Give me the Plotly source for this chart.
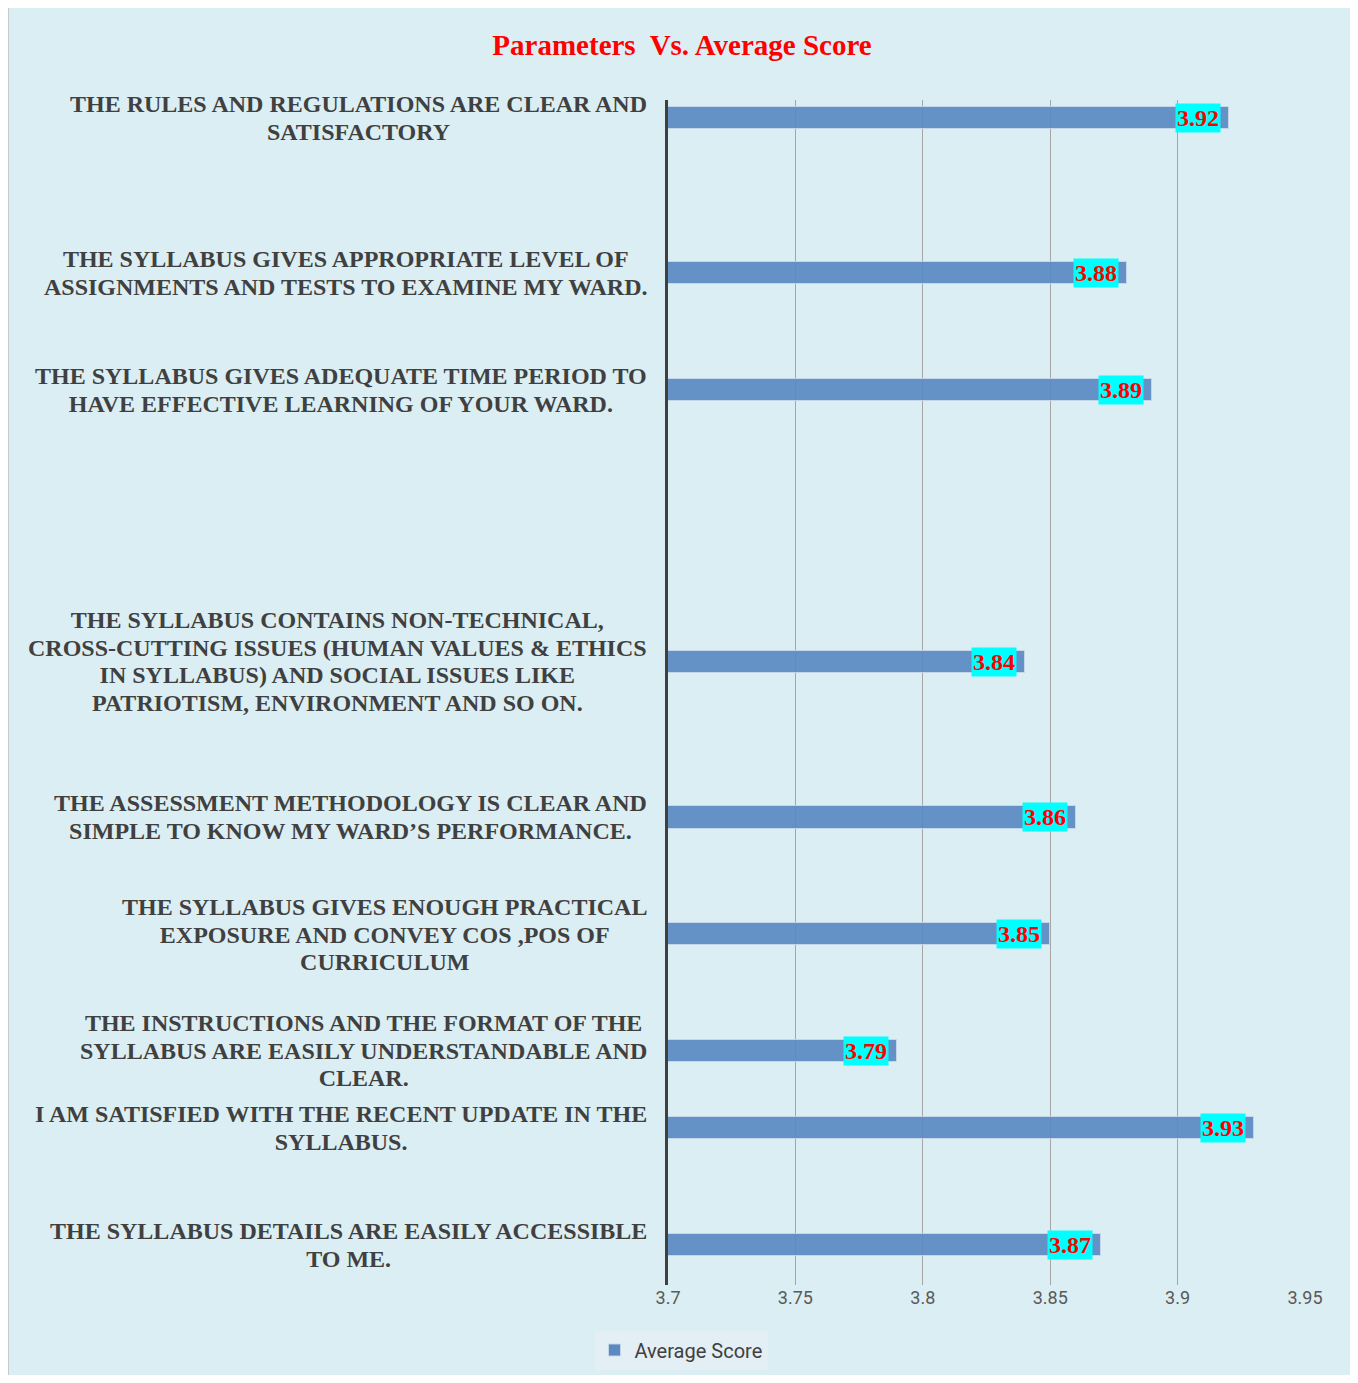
import plotly.graph_objects as go

# ---- data ----
categories = [
    "THE RULES AND REGULATIONS ARE CLEAR AND<br>SATISFACTORY",
    "THE SYLLABUS GIVES APPROPRIATE LEVEL OF<br>ASSIGNMENTS AND TESTS TO EXAMINE MY WARD.",
    "THE SYLLABUS GIVES ADEQUATE TIME PERIOD TO<br>HAVE EFFECTIVE LEARNING OF YOUR WARD.",
    "THE SYLLABUS CONTAINS NON-TECHNICAL,<br>CROSS-CUTTING ISSUES (HUMAN VALUES &amp; ETHICS<br>IN SYLLABUS) AND SOCIAL ISSUES LIKE<br>PATRIOTISM, ENVIRONMENT AND SO ON.",
    "THE ASSESSMENT METHODOLOGY IS CLEAR AND<br>SIMPLE TO KNOW MY WARD’S PERFORMANCE.",
    "THE SYLLABUS GIVES ENOUGH PRACTICAL<br>EXPOSURE AND CONVEY COS ,POS OF<br>CURRICULUM",
    "THE INSTRUCTIONS AND THE FORMAT OF THE<br>SYLLABUS ARE EASILY UNDERSTANDABLE AND<br>CLEAR.",
    "I AM SATISFIED WITH THE RECENT UPDATE IN THE<br>SYLLABUS.",
    "THE SYLLABUS DETAILS ARE EASILY ACCESSIBLE<br>TO ME.",
]
average_score = [3.92, 3.88, 3.89, 3.84, 3.86, 3.85, 3.79, 3.93, 3.87]
x_ticks = [3.7, 3.75, 3.8, 3.85, 3.9, 3.95]
series_name = "Average Score"

# ---- layout: uneven row spacing of the original (gaps in row units, top to bottom) ----
row_gaps = [4, 3, 7, 4, 3, 3, 2, 3]
rows = [0]
for g in row_gaps:
    rows.append(rows[-1] - g)
top = -rows[-1]
rows = [r + top for r in rows]  # bottom row = 0

OFF = 8  # page body margin
W, H = 1358 - 2 * OFF, 1383 - 2 * OFF
L, R, T, B = 668 - OFF, 1305 - OFF, 100 - OFF, 1285 - OFF

fig = go.Figure()
fig.add_trace(go.Bar(
    x=average_score, y=rows, orientation="h", name=series_name,
    width=0.57,
    marker=dict(color="#5B8AC3", opacity=0.93,
                line=dict(color="rgba(200,215,235,0.9)", width=1)),
))

annotations = []
# category labels (centered multi-line, tight line spacing)
for cat, r in zip(categories, rows):
    annotations.append(dict(
        x=0, xref="paper", y=r, yref="y", xanchor="right", yanchor="middle",
        xshift=-19, text='<b><span style="font-size:24px">' + cat + "</span></b>",
        showarrow=False, align="center",
        font=dict(family="Liberation Serif", size=21.3, color="#404040"),
    ))
# data labels
for v, r in zip(average_score, rows):
    annotations.append(dict(
        x=v, y=r, xref="x", yref="y", xanchor="right", yanchor="middle",
        xshift=-8, text="<b>%.2f</b>" % v, showarrow=False,
        bgcolor="#00FFFF", borderpad=1,
        font=dict(family="Liberation Serif", size=24, color="#FF0000"),
    ))

pw, ph = R - L, B - T
shapes = [dict(
    type="rect", xref="paper", yref="paper", layer="below",
    x0=(8 - OFF - L) / pw, x1=(1357 - OFF - L) / pw,
    y0=(B - (1383 - OFF)) / ph, y1=(B - (7 - OFF)) / ph,
    fillcolor="#DBEEF3", line=dict(color="#BFBFBF", width=1.5),
)]

fig.update_layout(
    width=W, height=H,
    margin=dict(l=L, r=W - R, t=T, b=H - B, pad=0),
    paper_bgcolor="white", plot_bgcolor="rgba(0,0,0,0)",
    title=dict(text="<b>Parameters  Vs. Average Score</b>", x=(682 - OFF) / W, xanchor="center",
               y=1 - (45 - OFF) / H, yanchor="middle", xref="container", yref="container",
               font=dict(family="Liberation Serif", size=29, color="#FF0000")),
    xaxis=dict(range=[3.7, 3.95], tickvals=x_ticks, ticktext=[str(t) for t in x_ticks],
               showgrid=True, gridcolor="#A6A6A6", gridwidth=1, zeroline=False,
               showline=False, ticks="", ticklabelstandoff=0,
               tickfont=dict(family="Roboto", size=18, color="#595959")),
    yaxis=dict(range=[-1.03, top + 0.46], showticklabels=False, showgrid=False,
               zeroline=False, showline=True, linecolor="#404040", linewidth=3,
               ticks=""),
    showlegend=True,
    legend=dict(orientation="h", xref="container", yref="container",
                x=(681 - OFF) / W, xanchor="center", y=1 - (1350 - OFF) / H, yanchor="middle",
                bgcolor="#E3EFF4", borderwidth=0,
                font=dict(family="Roboto", size=20, color="#404040")),
    annotations=annotations, shapes=shapes, bargap=0,
)

fig.write_html("out.html")
